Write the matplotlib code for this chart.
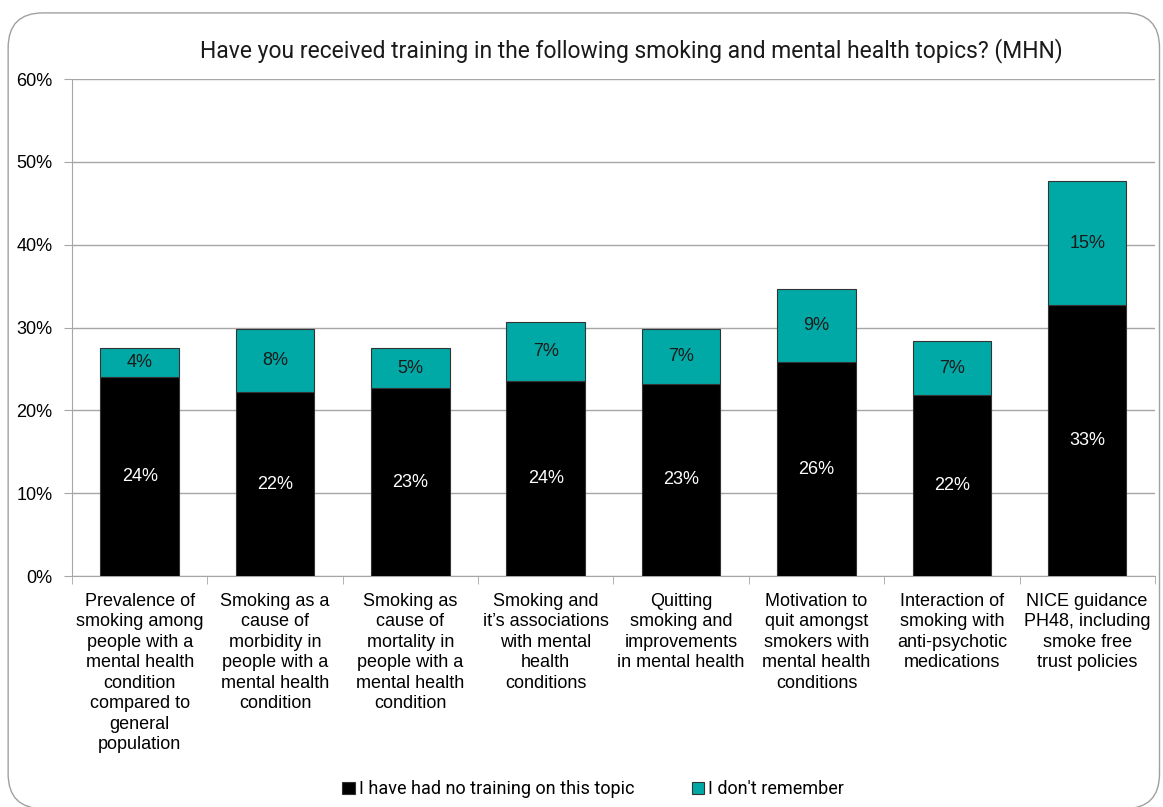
import numpy as np
import matplotlib.pyplot as plt
from matplotlib.patches import FancyBboxPatch
from matplotlib.ticker import FuncFormatter

topics = [
    'Prevalence of\nsmoking among\npeople with a\nmental health\ncondition\ncompared to\ngeneral\npopulation',
    'Smoking as a\ncause of\nmorbidity in\npeople with a\nmental health\ncondition',
    'Smoking as\ncause of\nmortality in\npeople with a\nmental health\ncondition',
    "Smoking and\nit\u2019s associations\nwith mental\nhealth\nconditions",
    'Quitting\nsmoking and\nimprovements\nin mental health',
    'Motivation to\nquit amongst\nsmokers with\nmental health\nconditions',
    'Interaction of\nsmoking with\nanti-psychotic\nmedications',
    'NICE guidance\nPH48, including\nsmoke free\ntrust policies',
]
no_training = [24.0, 22.2, 22.7, 23.6, 23.2, 25.8, 21.8, 32.7]
dont_remember = [3.5, 7.6, 4.8, 7.1, 6.6, 8.9, 6.6, 15.0]

black = '#000000'
teal = '#00A9A5'
grid_col = '#A6A6A6'
label_font = 'Liberation Sans'
title_font = 'Roboto'

fig = plt.figure(figsize=(11.63, 8.07), dpi=100)
ax = fig.add_axes([0.0619, 0.2862, 0.9311, 0.6158])

# rounded outer frame
frame = FancyBboxPatch((0.007, -0.002), 0.990, 0.986, boxstyle='round,pad=0,rounding_size=0.03',
                       transform=fig.transFigure, fill=False, ec='#A0A0A0', lw=1.0,
                       mutation_aspect=1163 / 807, clip_on=False)
fig.patches.append(frame)

x = np.arange(len(topics))
b1 = ax.bar(x, no_training, width=0.58, color=black, edgecolor='#333333', lw=0.8,
            label='I have had no training on this topic', zorder=3)
b2 = ax.bar(x, dont_remember, width=0.58, bottom=no_training, color=teal, edgecolor='#333333',
            lw=0.8, label="I don't remember", zorder=3)

for xi, v in zip(x, no_training):
    ax.text(xi, v / 2, f'{v:.0f}%', ha='center', va='center', color='white',
            fontsize=13, family=label_font, zorder=4)
for xi, b, v in zip(x, no_training, dont_remember):
    ax.text(xi, b + v / 2, f'{v:.0f}%', ha='center', va='center', color='#1a1a1a',
            fontsize=13, family=label_font, zorder=4)

ax.set_xlim(-0.5, len(topics) - 0.5)
ax.set_ylim(0, 60)
ax.set_yticks(np.arange(0, 61, 10))
ax.yaxis.set_major_formatter(FuncFormatter(lambda v, p: f'{v:.0f}%'))
ax.yaxis.grid(True, color=grid_col, lw=1.0, zorder=0)
ax.set_axisbelow(True)

ax.set_xticks(x)
ax.set_xticklabels(topics, fontsize=13, family=label_font, linespacing=1.27, va='top')
ax.set_xticks(np.arange(-0.5, len(topics)), minor=True)
ax.tick_params(axis='x', which='major', length=0, pad=12)
ax.tick_params(axis='x', which='minor', length=6, color=grid_col)
ax.tick_params(axis='y', length=6, color=grid_col, labelsize=13, pad=8)
for lab in ax.get_yticklabels():
    lab.set_family(label_font)

for s in ['top', 'right']:
    ax.spines[s].set_visible(False)
ax.spines['left'].set_color(grid_col)
ax.spines['bottom'].set_color(grid_col)

fig.text(0.543, 0.938, 'Have you received training in the following smoking and mental health topics? (MHN)',
         ha='center', va='center', fontsize=16.5, family=title_font, color='#1a1a1a')

fig.legend(handles=[b1, b2], loc='center', bbox_to_anchor=(0.51, 0.022), ncol=2, frameon=False,
           prop={'family': title_font, 'size': 13}, handlelength=0.7, handleheight=0.7,
           handletextpad=0.2, columnspacing=3.2)

plt.savefig('out.png', dpi=100)
